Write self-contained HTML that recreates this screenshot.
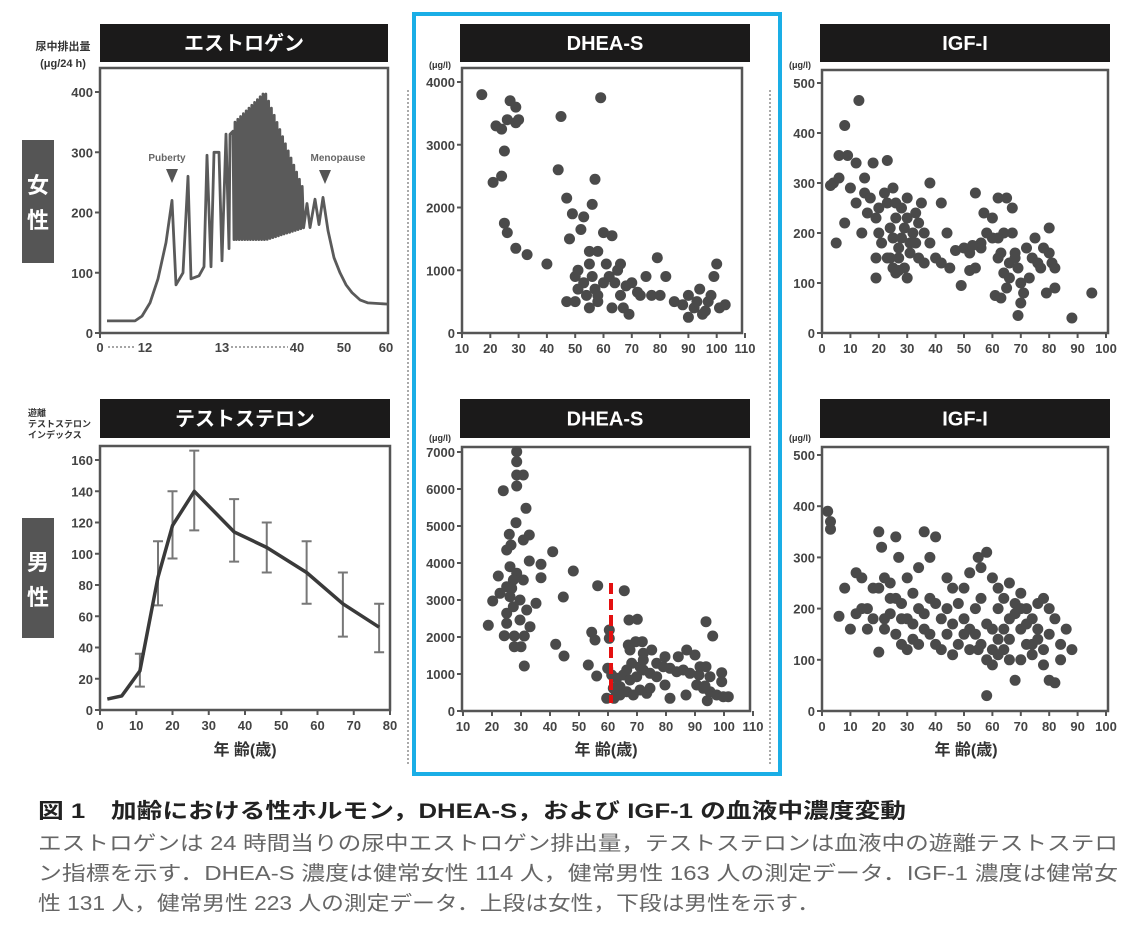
<!DOCTYPE html>
<html><head><meta charset="utf-8"><style>
html,body{margin:0;padding:0;background:#fff;width:1137px;height:933px;overflow:hidden}
svg{display:block}
text{font-family:"Liberation Sans","Noto Sans CJK JP",sans-serif}
</style></head><body>
<svg id="s" width="1137" height="933" viewBox="0 0 1137 933" xmlns="http://www.w3.org/2000/svg">
<rect x="414" y="14" width="366" height="760" fill="none" stroke="#1aaee6" stroke-width="4"/>
<line x1="408" y1="90" x2="408" y2="765" stroke="#aaa" stroke-width="2" stroke-dasharray="2 2"/>
<line x1="770" y1="90" x2="770" y2="765" stroke="#aaa" stroke-width="2" stroke-dasharray="2 2"/>
<rect x="22" y="140" width="32" height="123" fill="#555"/>
<text x="38" y="193" font-size="22" font-weight="bold" fill="#fff" text-anchor="middle">女</text>
<text x="38" y="228" font-size="22" font-weight="bold" fill="#fff" text-anchor="middle">性</text>
<rect x="22" y="518" width="32" height="120" fill="#555"/>
<text x="38" y="570" font-size="22" font-weight="bold" fill="#fff" text-anchor="middle">男</text>
<text x="38" y="605" font-size="22" font-weight="bold" fill="#fff" text-anchor="middle">性</text>
<text x="38" y="818" font-size="21" font-weight="bold" fill="#222" textLength="868" lengthAdjust="spacingAndGlyphs">図 1　加齢における性ホルモン，DHEA-S，および IGF-1 の血液中濃度変動</text>
<text x="38" y="850" font-size="20" fill="#666" textLength="1080" lengthAdjust="spacingAndGlyphs">エストロゲンは 24 時間当りの尿中エストロゲン排出量，テストステロンは血液中の遊離テストステロ</text>
<text x="38" y="880" font-size="20" fill="#666" textLength="1080" lengthAdjust="spacingAndGlyphs">ン指標を示す．DHEA-S 濃度は健常女性 114 人，健常男性 163 人の測定データ．IGF-1 濃度は健常女</text>
<text x="38" y="910" font-size="20" fill="#666" textLength="782" lengthAdjust="spacingAndGlyphs">性 131 人，健常男性 223 人の測定データ．上段は女性，下段は男性を示す．</text>
<g id="g"></g>
</svg>
<script>
var g=document.getElementById('g'),h='';
function T(x,y,s,fs,fw,fill,anc){h+='<text x="'+x+'" y="'+y+'" font-size="'+fs+'" font-weight="'+(fw||'bold')+'" fill="'+(fill||'#444')+'" text-anchor="'+(anc||'middle')+'">'+s+'</text>';}
function title(x1,x2,y1,y2,s){h+='<rect x="'+x1+'" y="'+y1+'" width="'+(x2-x1)+'" height="'+(y2-y1)+'" fill="#1b1a1a"/>';T((x1+x2)/2,y1+(y2-y1)/2+7,s,20,'bold','#fff');}
function axes(o){
 h+='<rect x="'+o.L+'" y="'+o.T+'" width="'+(o.R-o.L)+'" height="'+(o.B-o.T)+'" fill="none" stroke="#555" stroke-width="2.5"/>';
 var fx=function(v){return o.x0+(v-o.xa)/(o.xb-o.xa)*(o.x1-o.x0)},fy=function(v){return o.y0+(v-o.ya)/(o.yb-o.ya)*(o.y1-o.y0)};
 if(o.yt)o.yt.forEach(function(v){var y=fy(v);h+='<line x1="'+(o.L-5)+'" y1="'+y+'" x2="'+o.L+'" y2="'+y+'" stroke="#555" stroke-width="2"/>';T(o.L-7,y+5,v,13,'bold','#444','end');});
 if(o.xt)o.xt.forEach(function(v){var x=fx(v);h+='<line x1="'+x+'" y1="'+o.B+'" x2="'+x+'" y2="'+(o.B+5)+'" stroke="#555" stroke-width="2"/>';T(x,o.B+20,v,13,'bold','#444');});
 o.fx=fx;o.fy=fy;return o;}
function dots(o,pts){pts.forEach(function(p){h+='<circle cx="'+o.fx(p[0]).toFixed(1)+'" cy="'+o.fy(p[1]).toFixed(1)+'" r="5.5" fill="#4a4a4a"/>';});}
function rng(a){var r=[];for(var v=a[0];v<=a[1];v+=a[2])r.push(v);return r;}

title(100,388,24,62,'エストロゲン');
T(63,50,'尿中排出量',11,'bold','#333');T(63,67,'(μg/24 h)',11,'bold','#333');
var e=axes({L:100,R:388,T:68,B:333,xa:0,xb:60,x0:100,x1:388,ya:0,yb:400,y0:333,y1:92,yt:[0,100,200,300,400]});
h+='<line x1="100" y1="333" x2="100" y2="338" stroke="#555" stroke-width="2"/>';
T(100,352,'0',13);T(145,352,'12',13);h+='<line x1="108" y1="347" x2="136" y2="347" stroke="#888" stroke-width="1.5" stroke-dasharray="2 2"/>';
T(222,352,'13',13);T(297,352,'40',13);h+='<line x1="231" y1="347" x2="288" y2="347" stroke="#888" stroke-width="1.5" stroke-dasharray="2 2"/>';
T(344,352,'50',13);T(386,352,'60',13);
var ey=function(v){return 333-v*0.6025};
var P=[[107,20],[135,20],[142,28],[150,50],[158,90],[166,150],[172,220],[176,80],[183,100],[188,260],[191,90],[199,95],[204,110],[207,295],[211,110],[214,300],[219,300],[222,120],[226,330],[229,140],[230,330],[233,335],[234,155]];
var x=235;
while(x<303){var t=(x-235)/(265-235);var pk=x<265?350+50*t:400-(x-265)/(303-265)*160;var tr=x<265?155:155+(x-265)/(303-265)*20;P.push([x,pk]);P.push([x+1.4,tr]);x+=2.8;}
P=P.concat([[307,215],[310,175],[315,222],[319,180],[323,225],[328,170],[334,125],[340,100],[346,80],[352,67],[360,55],[368,50],[388,48]]);
h+='<path d="M'+P.map(function(p){return p[0]+','+ey(p[1]).toFixed(1)}).join(' L')+'" fill="none" stroke="#5a5a5a" stroke-width="2.8" stroke-linejoin="round"/>';
T(167,161,'Puberty',10,'bold','#666');h+='<path d="M166,169 L178,169 L172,183Z" fill="#555"/>';
T(338,161,'Menopause',10,'bold','#666');h+='<path d="M319,170 L331,170 L325,184Z" fill="#555"/>';

title(460,750,24,62,'DHEA-S');T(440,68,'(μg/l)',9,'bold','#333');
var d1=axes({L:462,R:742,T:68,B:333,xa:10,xb:110,x0:462,x1:745,ya:0,yb:4000,y0:333,y1:82,yt:[0,1000,2000,3000,4000],xt:rng([10,110,10])});
dots(d1,[[17,3800],[22,3300],[24,3250],[25,2900],[26,3400],[27,3700],[29,3600],[29,3350],[30,3400],[24,2500],[21,2400],[25,1750],[26,1600],[29,1350],[33,1250],[40,1100],[45,3450],[44,2600],[47,2150],[49,1900],[53,1850],[56,2050],[57,2450],[59,3750],[52,1650],[55,1300],[58,1300],[60,1600],[63,1550],[48,1500],[50,900],[51,1000],[53,800],[54,600],[57,700],[60,800],[62,900],[65,1000],[66,600],[68,750],[70,800],[72,650],[75,900],[77,600],[79,1200],[82,900],[80,600],[47,500],[50,500],[55,400],[58,500],[63,400],[67,400],[69,300],[73,600],[85,500],[88,450],[90,600],[92,400],[94,700],[95,300],[97,500],[99,900],[100,1100],[98,600],[101,400],[103,450],[96,350],[90,250],[93,500],[55,1100],[56,900],[61,1100],[64,800],[58,600],[51,700],[66,1100]]);

title(820,1110,24,62,'IGF-I');T(800,68,'(μg/l)',9,'bold','#333');
var i1=axes({L:822,R:1108,T:70,B:333,xa:0,xb:100,x0:822,x1:1106,ya:0,yb:500,y0:333,y1:83,yt:[0,100,200,300,400,500],xt:rng([0,100,10])});
dots(i1,[[8,415],[13,465],[6,355],[9,355],[12,340],[4,300],[6,310],[10,290],[15,310],[18,340],[23,345],[3,295],[5,180],[8,220],[12,260],[14,200],[16,240],[20,250],[22,280],[25,290],[28,250],[30,230],[35,260],[38,300],[42,260],[20,200],[21,180],[19,110],[24,150],[26,120],[27,170],[28,190],[29,210],[31,160],[32,200],[33,180],[24,210],[25,190],[26,230],[27,150],[29,130],[30,110],[31,180],[34,150],[36,200],[38,180],[40,150],[42,140],[45,130],[19,150],[50,170],[52,160],[54,130],[49,95],[56,180],[58,200],[60,190],[54,280],[57,240],[62,270],[62,150],[63,160],[64,120],[65,90],[66,140],[67,200],[68,150],[69,130],[70,100],[71,80],[72,170],[73,110],[74,150],[75,190],[76,140],[61,75],[63,70],[65,270],[67,250],[70,60],[69,35],[68,160],[66,110],[80,160],[81,140],[82,130],[79,80],[82,90],[77,130],[78,170],[80,210],[88,30],[95,80],[60,230],[56,170],[64,200],[62,190],[47,165],[44,200],[36,140],[15,280],[17,270],[19,230],[23,260],[26,260],[30,270],[33,240],[34,220],[52,125],[53,175],[23,150],[25,130],[27,125]]);

title(100,390,399,438,'テストステロン');
T(28,416,'遊離',9,'bold','#333','start');T(28,427,'テストステロン',9,'bold','#333','start');T(28,438,'インデックス',9,'bold','#333','start');
var t=axes({L:100,R:390,T:446,B:710,xa:0,xb:80,x0:100,x1:390,ya:0,yb:160,y0:710,y1:460,yt:rng([0,160,20]),xt:rng([0,80,10])});
var eb=[[11,15,36],[16,67,108],[20,97,140],[26,115,166],[37,95,135],[46,88,120],[57,68,108],[67,47,88],[77,37,68]];
eb.forEach(function(b){var x=t.fx(b[0]);h+='<path d="M'+x+','+t.fy(b[1])+' V'+t.fy(b[2])+' M'+(x-5)+','+t.fy(b[1])+' h10 M'+(x-5)+','+t.fy(b[2])+' h10" stroke="#777" stroke-width="2" fill="none"/>';});
var tl=[[2,7],[6,9],[11,25],[16,85],[20,118],[26,140],[37,114],[46,104],[57,88],[67,68],[77,53]];
h+='<path d="M'+tl.map(function(p){return t.fx(p[0]).toFixed(1)+','+t.fy(p[1]).toFixed(1)}).join(' L')+'" fill="none" stroke="#3a3a3a" stroke-width="3.5" stroke-linejoin="round"/>';
T(245,755,'年 齢(歳)',16,'bold','#333');

title(460,750,399,438,'DHEA-S');T(440,441,'(μg/l)',9,'bold','#333');
var d2=axes({L:462,R:750,T:447,B:711,xa:10,xb:110,x0:463,x1:753,ya:0,yb:7000,y0:711,y1:452,yt:rng([0,7000,1000]),xt:rng([10,110,10])});
var Z=[[320,215],[320,245],[320,285],[340,285],[320,318],[280,332],[348,385],[318,428],[298,463],[358,465],[340,480],[303,495],[290,510],[358,543],[393,553],[428,515],[490,573],[265,588],[393,593],[320,580],[310,600],[340,600],[290,620],[563,617],[643,632],[248,663],[460,651],[300,650],[330,660],[310,680],[350,690],[378,670],[290,700],[330,720],[290,730],[360,740],[235,736],[283,767],[313,768],[343,768],[313,800],[333,800],[343,858],[437,793],[462,828],[545,757],[555,780],[598,750],[598,775],[657,720],[682,718],[535,855],[560,888],[593,865],[605,885],[655,795],[677,785],[697,785],[660,810],[700,820],[725,810],[765,830],[805,830],[830,810],[855,825],[780,865],[800,875],[820,870],[840,880],[870,860],[765,915],[780,955],[828,945],[867,885],[888,860],[860,915],[880,925],[900,935],[920,945],[940,950],[955,950],[885,918],[900,890],[935,878],[935,905],[888,725],[908,768],[892,962],[612,955],[590,955],[620,895],[640,885],[660,900],[680,890],[700,870],[720,880],[740,890],[630,920],[650,935],[670,945],[690,930],[710,940],[720,925],[665,850],[690,860],[700,840],[740,850],[760,860],[650,870],[630,945],[610,925],[300,560],[270,640],[305,625]];
Z.forEach(function(p){h+='<circle cx="'+(410+p[0]/3).toFixed(1)+'" cy="'+(380+p[1]/3).toFixed(1)+'" r="5.5" fill="#4a4a4a"/>';});
h+='<line x1="611" y1="583" x2="611" y2="703" stroke="#e41010" stroke-width="4" stroke-dasharray="11 5"/>';
T(606,755,'年 齢(歳)',16,'bold','#333');

title(820,1110,399,438,'IGF-I');T(800,441,'(μg/l)',9,'bold','#333');
var i2=axes({L:822,R:1108,T:447,B:711,xa:0,xb:100,x0:822,x1:1106,ya:0,yb:500,y0:711,y1:455,yt:rng([0,500,100]),xt:rng([0,100,10])});
dots(i2,[[2,390],[3,370],[3,355],[6,185],[8,240],[10,160],[12,270],[14,260],[16,200],[18,240],[20,350],[21,320],[22,180],[24,220],[26,340],[27,300],[28,180],[30,260],[32,230],[34,280],[36,350],[38,300],[40,340],[16,160],[18,180],[20,115],[22,160],[24,190],[26,150],[28,130],[30,120],[32,140],[34,200],[36,160],[38,150],[40,130],[42,180],[44,200],[46,240],[48,210],[50,180],[52,160],[54,200],[55,300],[56,280],[58,310],[60,260],[62,240],[64,220],[66,250],[68,210],[70,230],[72,200],[74,180],[76,210],[78,220],[80,200],[82,180],[84,130],[86,160],[88,120],[80,60],[82,55],[58,30],[62,140],[64,120],[66,100],[68,60],[70,100],[72,130],[74,110],[76,140],[78,120],[80,150],[44,150],[46,170],[48,130],[50,150],[52,120],[54,150],[56,130],[58,100],[60,90],[62,110],[46,110],[42,120],[30,180],[26,220],[24,250],[14,200],[12,190],[36,190],[38,220],[40,210],[50,240],[52,270],[56,220],[60,160],[62,200],[66,180],[70,160],[72,170],[74,130],[76,160],[66,140],[58,170],[44,260],[28,210],[32,170],[34,130],[20,240],[22,260],[64,160],[68,190],[70,200],[55,120],[60,120],[78,90],[84,100]]);
T(966,755,'年 齢(歳)',16,'bold','#333');
g.innerHTML=h;
</script>
</body></html>
